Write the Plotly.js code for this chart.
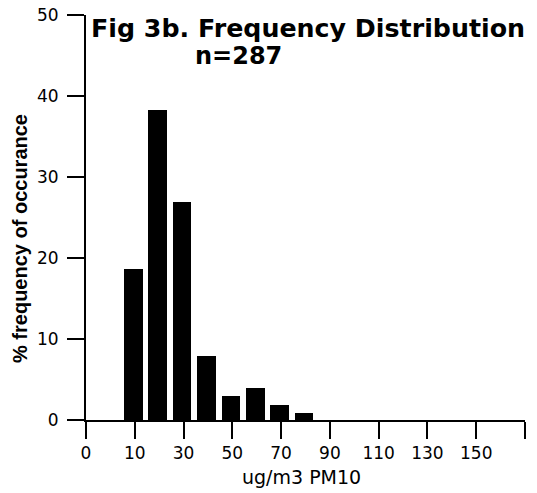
<!DOCTYPE html>
<html>
<head>
<meta charset="utf-8">
<script src="https://cdn.plot.ly/plotly-3.0.1.min.js"></script>
<style>
html,body{margin:0;padding:0;background:#fff;}
#chart{width:537px;height:493px;}
</style>
</head>
<body>
<div id="chart"></div>
<script>
// Bin positions (ug/m3 PM10) and % frequency of occurrence
const binCenters = [10, 20, 30, 40, 50, 60, 70, 80];
const percentFreq = [18.7, 38.3, 26.9, 7.9, 3.0, 4.0, 1.9, 0.9];

// Axis tick positions and labels as printed on the figure
const xTickVals = [-10, 10, 30, 50, 70, 90, 110, 130, 150, 170];
const xTickText = ['0', '10', '30', '50', '70', '90', '110', '130', '150', ''];
const yTickVals = [0, 10, 20, 30, 40, 50];

const titleLine1 = 'Fig 3b. Frequency Distribution';
const titleLine2 = 'n=287';
const xTitle = 'ug/m3 PM10';
const yTitle = '% frequency of occurance';

const trace = {
  type: 'bar',
  x: binCenters,
  y: percentFreq,
  width: 7.6,
  offset: -4.4,
  marker: {color: '#000000', line: {width: 0}},
  hoverinfo: 'x+y'
};

const tickFont = {family: 'DejaVu Sans', size: 17, color: '#000'};

const layout = {
  width: 537,
  height: 493,
  margin: {l: 86, r: 12, t: 15, b: 73, pad: 0},
  paper_bgcolor: '#ffffff',
  plot_bgcolor: '#ffffff',
  showlegend: false,
  bargap: 0,
  xaxis: {
    range: [-10, 170],
    tickmode: 'array',
    tickvals: xTickVals,
    ticktext: xTickText,
    showgrid: false,
    zeroline: false,
    showline: true,
    linecolor: '#000',
    linewidth: 2,
    ticks: 'outside',
    ticklen: 17,
    tickwidth: 2,
    tickcolor: '#000',
    tickfont: tickFont,
    ticklabelstandoff: 0,
    fixedrange: true
  },
  yaxis: {
    range: [0, 50],
    tickmode: 'array',
    tickvals: yTickVals,
    showgrid: false,
    zeroline: false,
    showline: true,
    linecolor: '#000',
    linewidth: 2,
    ticks: 'outside',
    ticklen: 17,
    tickwidth: 2,
    tickcolor: '#000',
    tickfont: tickFont,
    ticklabelstandoff: 5,
    fixedrange: true
  },
  annotations: [
    {
      text: '<b>' + titleLine1 + '</b>',
      xref: 'paper', yref: 'paper',
      x: 0.0068, y: 0.9667,
      xanchor: 'left', yanchor: 'middle',
      showarrow: false,
      font: {family: 'DejaVu Sans', size: 25.3, color: '#000'}
    },
    {
      text: '<b>' + titleLine2 + '</b>',
      xref: 'paper', yref: 'paper',
      x: 0.2437, y: 0.899,
      xanchor: 'left', yanchor: 'middle',
      showarrow: false,
      font: {family: 'DejaVu Sans', size: 24, color: '#000'}
    },
    {
      text: xTitle,
      xref: 'paper', yref: 'paper',
      x: 0.492, y: -0.1407,
      xanchor: 'center', yanchor: 'middle',
      showarrow: false,
      font: {family: 'DejaVu Sans', size: 19, color: '#000'}
    },
    {
      text: '<b>' + yTitle + '</b>',
      xref: 'paper', yref: 'paper',
      x: -0.1503, y: 0.447,
      xanchor: 'center', yanchor: 'middle',
      textangle: -90,
      showarrow: false,
      font: {family: 'Liberation Sans', size: 20, color: '#000'}
    }
  ]
};

Plotly.newPlot('chart', [trace], layout, {displayModeBar: false, staticPlot: true});
</script>
</body>
</html>
